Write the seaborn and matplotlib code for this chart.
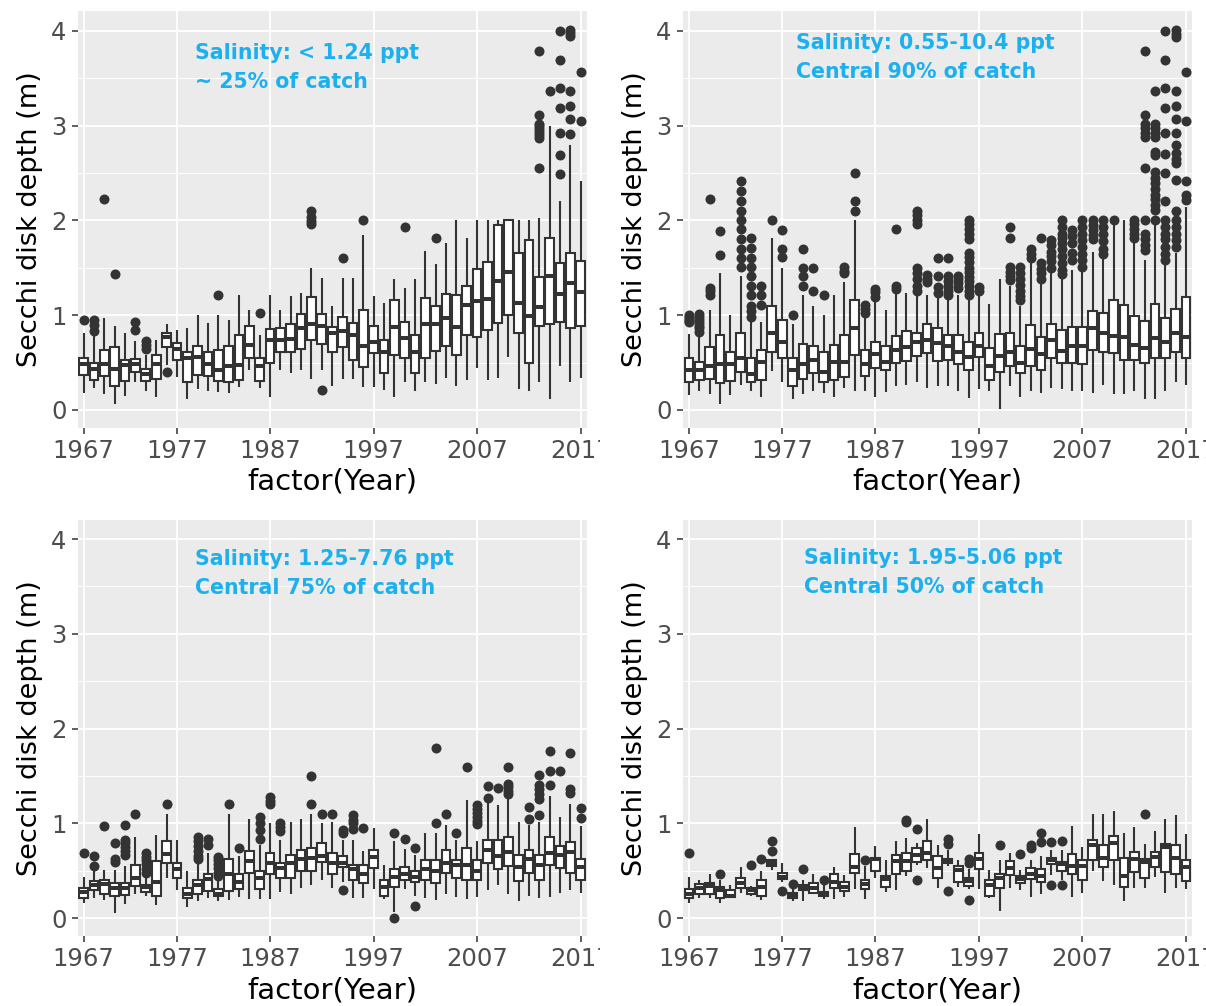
import numpy as np
import pandas as pd
import matplotlib
matplotlib.use("Agg")
import matplotlib.pyplot as plt
import seaborn as sns
from matplotlib.transforms import Bbox

# ---------------- data ----------------
MISSING_YEARS = [1972, 1983]
years = [y for y in range(1967, 2018) if y not in MISSING_YEARS]
tick_years = [1967, 1977, 1987, 1997, 2007, 2017]

# Panel 1: salinity < 1.24 ppt
p1_lo = [.18,.23,.17,.06,.15,.29,.20,.14,.47,.35,.12,.22,.20,.19,.18,.24,.42,.23,.14,.42,.39,.42,.33,.42,.25,.33,.33,.24,.24,.21,.14,.29,.20,.29,.27,.34,.25,.32,.44,.32,.34,.555,.22,.20,.30,.12,.46,.30,.34]
p1_q1 = [.37,.32,.36,.25,.31,.40,.31,.33,.66,.53,.29,.37,.36,.31,.29,.32,.55,.31,.50,.615,.61,.64,.74,.70,.615,.66,.53,.45,.60,.39,.58,.545,.39,.545,.625,.675,.58,.79,.77,.84,.92,1.0,.81,.50,.885,.91,.93,.86,.885]
p1_med = [.485,.43,.485,.43,.47,.485,.38,.49,.77,.64,.545,.555,.485,.42,.46,.475,.685,.46,.74,.74,.745,.86,.91,.885,.81,.83,.79,.67,.72,.615,.88,.755,.615,.91,.91,.97,.88,1.11,1.15,1.17,1.36,1.45,1.13,.99,1.09,1.41,1.22,1.34,1.24]
p1_q3 = [.545,.50,.63,.66,.53,.54,.43,.58,.81,.71,.61,.67,.61,.63,.67,.79,.885,.545,.85,.86,.91,1.01,1.195,1.01,.88,.98,.92,1.05,.885,.74,1.16,.93,.79,1.18,1.10,1.22,1.21,1.31,1.49,1.56,1.95,2.0,1.66,1.79,1.40,1.81,1.55,1.66,1.57]
p1_hi = [.81,.80,.97,.89,.81,.73,.58,.74,.91,.84,.86,1.0,.92,1.0,.95,1.21,1.05,.79,1.21,1.05,1.2,1.23,1.5,1.39,1.10,1.39,1.39,1.85,1.20,1.13,1.38,1.29,1.38,1.68,1.54,1.76,2.0,1.81,2.0,2.0,2.0,2.0,2.0,2.0,2.02,3.0,2.20,2.80,2.41]
p1_outliers = {
    1967: [.95], 1968: [.95, .90, .83], 1969: [2.22], 1970: [1.43], 1973: [.93, .84],
    1974: [.73, .69, .64], 1976: [.40], 1981: [1.21], 1986: [1.02],
    1991: [2.10, 2.04, 1.99, 1.96], 1992: [.21], 1994: [1.60], 1996: [2.0], 2000: [1.93],
    2003: [1.81], 2013: [3.79, 3.11, 3.02, 2.99, 2.96, 2.93, 2.90, 2.87, 2.55], 2014: [3.36],
    2015: [4.0, 3.69, 3.40, 3.19, 2.92, 2.69, 2.49],
    2016: [4.01, 3.98, 3.94, 3.36, 3.21, 3.07, 2.91], 2017: [3.57, 3.05],
}

# Panel 2: salinity 0.55-10.4 ppt
p2_lo = [.16,.20,.17,.06,.16,.26,.20,.14,.41,.30,.12,.17,.20,.18,.14,.23,.20,.20,.14,.19,.25,.26,.30,.23,.25,.25,.20,.13,.22,.20,.01,.25,.14,.20,.18,.23,.22,.20,.20,.18,.26,.17,.17,.20,.12,.12,.20,.29,.26]
p2_q1 = [.29,.32,.33,.28,.31,.40,.30,.32,.615,.545,.25,.33,.39,.29,.32,.35,.58,.36,.44,.42,.50,.52,.565,.60,.52,.53,.485,.42,.56,.32,.40,.46,.39,.46,.42,.545,.50,.50,.49,.63,.615,.60,.53,.53,.50,.545,.545,.615,.545]
p2_med = [.42,.42,.46,.485,.485,.545,.38,.51,.815,.72,.42,.49,.53,.40,.51,.51,.86,.49,.59,.51,.63,.66,.72,.74,.71,.675,.615,.56,.675,.46,.57,.615,.50,.64,.59,.74,.625,.67,.67,.86,.815,.78,.77,.685,.65,.76,.72,.81,.77]
p2_q3 = [.545,.51,.66,.79,.615,.81,.545,.63,1.10,.95,.545,.70,.67,.61,.685,.79,1.16,.63,.72,.67,.78,.83,.815,.91,.86,.79,.79,.72,.815,.65,.80,.815,.67,.90,.77,.91,.84,.88,.88,1.04,1.02,1.16,1.11,.99,.94,1.12,.97,1.06,1.195]
p2_hi = [.80,.80,1.05,1.44,1.0,1.41,.93,.93,1.81,1.50,.91,1.21,1.10,1.0,1.21,1.35,2.0,.98,1.14,1.05,1.22,1.23,1.20,1.21,1.18,1.17,1.21,1.18,1.21,1.12,1.38,1.31,1.10,1.55,1.35,1.45,1.39,1.48,1.48,1.67,1.59,1.98,2.0,1.76,1.58,1.95,1.55,1.66,2.14]
p2_outliers = {
    1967: [1.0, .98, .96, .94, .93], 1968: [1.01, .98, .95, .92, .89, .86, .82],
    1969: [2.22, 1.29, 1.26, 1.21], 1970: [1.89, 1.63],
    1973: [2.41, 2.31, 2.20, 2.10, 2.00, 1.91, 1.80, 1.70, 1.60, 1.51],
    1974: [1.81, 1.71, 1.60, 1.51, 1.41, 1.31, 1.21, 1.10, 1.04, .98],
    1975: [1.31, 1.21, 1.11], 1976: [2.0], 1977: [1.90, 1.70, 1.61], 1978: [1.0],
    1979: [1.70, 1.50, 1.41, 1.31], 1980: [1.50, 1.25], 1981: [1.21], 1984: [1.51, 1.47, 1.44],
    1985: [2.50, 2.20, 2.10], 1986: [1.11, 1.06, 1.02], 1987: [1.28, 1.24, 1.19],
    1989: [1.91, 1.31, 1.28], 1991: [2.10, 2.06, 2.0, 1.96, 1.50, 1.44, 1.38, 1.31, 1.25],
    1992: [1.42, 1.38, 1.35], 1993: [1.60, 1.41, 1.30, 1.23], 1994: [1.60, 1.41, 1.36, 1.31, 1.26, 1.21],
    1995: [1.41, 1.38, 1.34, 1.29],
    1996: [2.0, 1.96, 1.91, 1.86, 1.80, 1.66, 1.61, 1.56, 1.50, 1.45, 1.40, 1.36, 1.31, 1.26, 1.21],
    1997: [1.30, 1.26], 2000: [1.93, 1.81, 1.51, 1.46, 1.41, 1.37],
    2001: [1.51, 1.44, 1.38, 1.32, 1.26, 1.20, 1.16], 2002: [1.70, 1.65, 1.60],
    2003: [1.81, 1.55, 1.49, 1.44, 1.38], 2004: [1.79, 1.74, 1.67, 1.62, 1.57, 1.50],
    2005: [2.0, 1.93, 1.86, 1.81, 1.76, 1.70, 1.62, 1.55, 1.48, 1.43],
    2006: [1.90, 1.83, 1.76, 1.66, 1.58], 2007: [2.0, 1.93, 1.86, 1.79, 1.72, 1.65, 1.58, 1.51],
    2008: [2.0, 1.95, 1.90, 1.85, 1.80], 2009: [2.0, 1.93, 1.86, 1.78, 1.70, 1.65], 2010: [2.0],
    2012: [2.0, 1.96, 1.91, 1.86, 1.81],
    2013: [3.79, 3.11, 3.02, 2.97, 2.92, 2.88, 2.55, 2.0, 1.86, 1.80, 1.74, 1.69],
    2014: [3.36, 3.02, 2.97, 2.92, 2.88, 2.72, 2.69, 2.51, 2.45, 2.39, 2.33, 2.27, 2.22, 2.16, 2.11, 2.0],
    2015: [4.0, 3.69, 3.40, 3.19, 2.92, 2.70, 2.50, 2.20, 2.0, 1.93, 1.86, 1.80, 1.72, 1.65, 1.58],
    2016: [4.01, 3.97, 3.93, 3.36, 3.21, 3.07, 2.92, 2.80, 2.71, 2.65, 2.60, 2.43, 2.10, 2.0, 1.93, 1.86, 1.79, 1.72],
    2017: [3.57, 3.05, 2.41, 2.27, 2.21],
}

# Panel 3: salinity 1.25-7.76 ppt
p3_lo = [.16,.21,.19,.06,.15,.26,.23,.14,.42,.30,.12,.18,.21,.18,.19,.22,.20,.20,.20,.28,.26,.32,.35,.40,.32,.38,.21,.21,.31,.20,.07,.31,.24,.21,.19,.26,.22,.20,.22,.30,.35,.26,.18,.24,.21,.22,.27,.30,.27]
p3_q1 = [.21,.30,.26,.23,.25,.34,.28,.235,.58,.42,.21,.26,.29,.23,.29,.31,.48,.31,.47,.42,.42,.50,.50,.59,.47,.54,.40,.37,.53,.235,.33,.40,.38,.40,.37,.48,.42,.40,.40,.58,.52,.55,.39,.48,.40,.56,.53,.48,.40]
p3_med = [.28,.35,.36,.32,.32,.42,.33,.38,.68,.52,.26,.35,.41,.26,.47,.38,.60,.42,.58,.53,.58,.62,.64,.66,.58,.58,.52,.47,.65,.33,.44,.47,.44,.52,.50,.58,.56,.56,.50,.72,.66,.70,.54,.62,.56,.69,.67,.70,.54]
p3_q3 = [.32,.39,.40,.37,.37,.56,.35,.60,.81,.58,.32,.40,.47,.31,.63,.47,.71,.50,.69,.58,.67,.72,.74,.79,.69,.66,.56,.56,.72,.40,.52,.54,.50,.61,.61,.72,.61,.74,.61,.83,.83,.86,.67,.72,.67,.86,.76,.80,.62]
p3_hi = [.44,.51,.51,.51,.55,.86,.44,.88,1.10,.83,.50,.60,.69,.40,1.10,.66,1.05,.77,1.0,.83,1.02,1.05,1.10,1.0,1.02,.83,.83,.71,.95,.56,.81,.73,.67,.90,.90,.98,.83,1.25,.81,1.22,1.19,1.29,1.02,.98,1.02,1.29,1.07,1.21,.97]
p3_outliers = {
    1967: [.69], 1968: [.66, .55], 1969: [.97], 1970: [.79, .63, .59],
    1971: [.98, .83, .79, .75, .71, .67], 1973: [1.10], 1974: [.69, .65, .61, .57, .52, .48],
    1976: [1.21], 1979: [.86, .81, .76, .71, .66, .62], 1980: [.84, .77],
    1981: [.65, .61, .57, .53, .48, .45], 1982: [1.21], 1984: [.74], 1986: [1.07, 1.0, .93, .84],
    1987: [1.28, 1.24, 1.20], 1988: [1.0, .96, .92], 1991: [1.50, 1.21], 1992: [1.10],
    1993: [1.10], 1994: [.93, .90, .30], 1995: [1.09, 1.04, 1.0, .94], 1996: [.95],
    1999: [.90, 0.0], 2000: [.84], 2001: [.74, .13], 2003: [1.80, 1.0], 2004: [1.10],
    2005: [.90], 2006: [1.60], 2007: [1.19, 1.15, 1.11, 1.07, 1.03, .99], 2008: [1.39, 1.27],
    2009: [1.37], 2010: [1.60, 1.42, 1.38, 1.34, 1.31], 2012: [1.17, 1.05],
    2013: [1.51, 1.41, 1.36, 1.31, 1.26, 1.09], 2014: [1.76, 1.55, 1.41], 2015: [1.55],
    2016: [1.74, 1.36, 1.32], 2017: [1.16, 1.06],
}

# Panel 4: salinity 1.95-5.06 ppt
p4_lo = [.16,.21,.21,.16,.21,.27,.23,.19,.51,.38,.18,.18,.26,.20,.20,.22,.31,.20,.42,.28,.30,.45,.56,.53,.32,.55,.33,.31,.31,.21,.08,.32,.30,.22,.26,.46,.40,.22,.27,.50,.39,.35,.18,.32,.32,.44,.27,.32,.31]
p4_q1 = [.21,.26,.26,.21,.22,.32,.26,.235,.55,.41,.21,.30,.27,.235,.32,.29,.48,.31,.50,.33,.47,.50,.59,.615,.42,.58,.38,.34,.52,.235,.32,.46,.37,.41,.38,.57,.50,.47,.40,.61,.54,.61,.33,.49,.42,.54,.49,.47,.39]
p4_med = [.26,.32,.34,.30,.24,.37,.30,.33,.58,.44,.25,.33,.32,.26,.38,.33,.54,.36,.62,.41,.60,.60,.67,.69,.53,.61,.51,.39,.62,.35,.42,.53,.41,.47,.45,.61,.57,.55,.55,.77,.635,.79,.45,.62,.59,.65,.755,.635,.545]
p4_q3 = [.31,.36,.37,.33,.30,.42,.32,.40,.61,.48,.27,.35,.37,.28,.47,.38,.68,.40,.64,.45,.67,.69,.74,.82,.66,.63,.55,.42,.69,.40,.47,.60,.45,.53,.52,.64,.59,.68,.61,.83,.77,.87,.64,.70,.63,.70,.78,.77,.61]
p4_hi = [.44,.40,.47,.40,.35,.54,.34,.50,.61,.58,.33,.40,.47,.35,.54,.46,.96,.55,.76,.615,.81,.85,.79,1.05,.77,.72,.615,.52,.89,.51,.615,.69,.51,.615,.655,.72,.72,.97,.75,1.10,1.10,1.135,.90,.96,.78,.92,1.05,1.09,.89]
p4_outliers = {
    1967: [.69], 1970: [.47], 1974: [.56], 1975: [.63], 1976: [.81, .71], 1977: [.29],
    1978: [.36], 1979: [.52], 1981: [.40], 1986: [.615], 1990: [1.04, 1.02], 1991: [.94, .40],
    1994: [.84, .78, .29], 1996: [.63, .58, .19], 1999: [.77], 2001: [.68], 2002: [.77, .74],
    2003: [.90, .80], 2004: [.80, .35], 2005: [.81, .35], 2013: [1.10],
}

p1_note = ["Salinity: < 1.24 ppt", "~ 25% of catch"]
p2_note = ["Salinity: 0.55-10.4 ppt", "Central 90% of catch"]
p3_note = ["Salinity: 1.25-7.76 ppt", "Central 75% of catch"]
p4_note = ["Salinity: 1.95-5.06 ppt", "Central 50% of catch"]

x_title = "factor(Year)"
y_title = "Secchi disk depth (m)"

# ---------------- style ----------------
sns.set_theme(style="white")
plt.rcParams["font.family"] = ["DejaVu Sans"]

BOX = "#333333"
PANEL_BG = "#EBEBEB"
NOTE_COLOR = "#1CB0EE"
W, H = 1206, 1006

fig = plt.figure(figsize=(W / 100, H / 100), dpi=100)
fig.patch.set_facecolor("white")

YLIM = (-0.185, 4.205)
ax_w = 509.4 / W
ax_h = 416.2 / H
positions = [
    (77.5 / W, 1 - 427.5 / H),
    (682.8 / W, 1 - 427.5 / H),
    (77.5 / W, 1 - 935.8 / H),
    (682.8 / W, 1 - 935.8 / H),
]
# note anchor positions (data coords: x index, baseline y line1, line2)
note_pos = [(10.75, 3.70, 3.40), (10.33, 3.81, 3.50), (10.78, 3.73, 3.42), (11.07, 3.74, 3.43)]

panels = [
    (p1_lo, p1_q1, p1_med, p1_q3, p1_hi, p1_outliers, p1_note),
    (p2_lo, p2_q1, p2_med, p2_q3, p2_hi, p2_outliers, p2_note),
    (p3_lo, p3_q1, p3_med, p3_q3, p3_hi, p3_outliers, p3_note),
    (p4_lo, p4_q1, p4_med, p4_q3, p4_hi, p4_outliers, p4_note),
]

order = [str(y) for y in years]

for k, ((lo, q1, med, q3, hi, outs, note), (l, b)) in enumerate(zip(panels, positions)):
    for arr in (lo, q1, med, q3, hi):
        assert len(arr) == len(years)
    ax = fig.add_axes([l, b, ax_w, ax_h])
    ax.set_facecolor(PANEL_BG)

    rows = []
    for y, a, b_, c, d, e in zip(years, lo, q1, med, q3, hi):
        for v in (a, b_, c, d, e):
            rows.append((str(y), v))
    df = pd.DataFrame(rows, columns=["Year", "depth"])

    sns.boxplot(data=df, x="Year", y="depth", order=order, color="white",
                linecolor=BOX, linewidth=1.5, width=0.84, whis=(0, 100),
                showcaps=False, showfliers=False, saturation=1,
                medianprops={"linewidth": 2.9, "color": BOX}, ax=ax, zorder=2)

    orows = [(str(y), v) for y, vals in outs.items() for v in vals]
    odf = pd.DataFrame(orows, columns=["Year", "depth"])
    sns.stripplot(data=odf, x="Year", y="depth", order=order, jitter=False,
                  color=BOX, size=7.2, linewidth=0, ax=ax, zorder=3)

    ax.set_xlim(-0.6, len(years) - 1 + 0.6)
    ax.set_ylim(*YLIM)
    tick_pos = [years.index(t) for t in tick_years]
    ax.set_xticks(tick_pos)
    ax.set_xticklabels([str(t) for t in tick_years])
    ax.set_yticks([0, 1, 2, 3, 4])
    ax.set_yticklabels(["0", "1", "2", "3", "4"])
    ax.set_yticks([0.5, 1.5, 2.5, 3.5], minor=True)

    ax.set_axisbelow(True)
    ax.grid(True, which="major", axis="both", color="white", linewidth=1.3)
    ax.grid(True, which="minor", axis="y", color="white", linewidth=0.65)
    for sp in ax.spines.values():
        sp.set_visible(False)

    ax.tick_params(axis="both", which="major", direction="out", length=4.5, width=1.1,
                   color=BOX, labelcolor="#4D4D4D", labelsize=17.5, pad=3.5,
                   bottom=True, left=True)
    ax.tick_params(axis="y", which="minor", length=0)

    ax.set_xlabel(x_title, fontsize=21, color="black")
    ax.set_ylabel(y_title, fontsize=19.5, color="black")
    ax.xaxis.set_label_coords(0.5, -0.097)
    ax.yaxis.set_label_coords(-0.068, 0.5)

    nx, ny1, ny2 = note_pos[k]
    for txt, yy in zip(note, (ny1, ny2)):
        ax.text(nx, yy, txt, ha="left", va="baseline", fontsize=14.8,
                fontweight="bold", color=NOTE_COLOR, zorder=4)

    # the left panels' last tick label is cut by the neighbouring panel
    if k in (0, 2):
        lbl = ax.get_xticklabels()[-1]
        lbl.set_clip_box(Bbox.from_extents(0, 0, 600, H))
        lbl.set_clip_on(True)

fig.savefig("out.png", dpi=100, facecolor="white")
